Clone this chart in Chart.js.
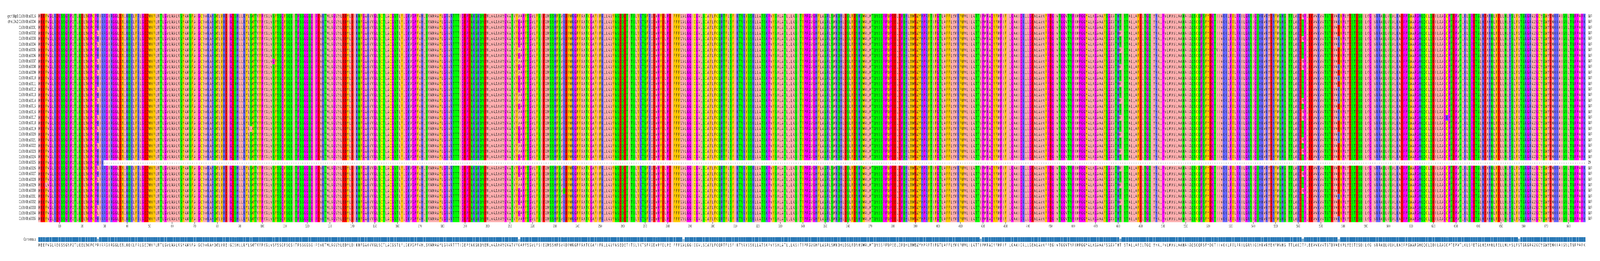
<!DOCTYPE html>
<html><head><meta charset="utf-8">
<script src="https://cdn.jsdelivr.net/npm/chart.js@4"></script>
<style>html,body{margin:0;padding:0;background:#fff;overflow:hidden;width:100vw;height:100vh}
#clip{position:relative;width:100vw;height:100vh;overflow:hidden}
#page{position:absolute;left:0;top:0;width:7161px;height:668px;transform-origin:0 0}
#w1{position:absolute;left:0;top:0;width:7161px;height:590px}
#w2{position:absolute;left:0;top:590px;width:7161px;height:78px}</style>
</head><body>
<div id="clip"><div id="page">
<div id="w1"><canvas id="c1"></canvas></div>
<div id="w2"><canvas id="c2"></canvas></div>
</div></div>
<script>
// ---- data ----
const seqNames = ["grch38p0:CLCNKB:a0016","chm13v2:CLCNKB:a0004"].concat(
  Array.from({length:35},(_,i)=>"CLCNKB:a00"+String(i+1).padStart(2,"0")));
const refPart1 = "MEEFVGLREGSSGNPVTLQELWGPCPRIRRGIRGGLEWLKQKLFRLGEDWYFLMTLGVLMALVSYAMNFAIGCVVRAHQWLYREIGDSHLLRYLSWTVYPVALVSFSSGFSQSITPSSGGSGIPEVKTMLAGVVLEDYLDIKNFGAKVVGLSCTLACGSTLFLGKVGPFVHLSVMMAAYLGRVRTTTIGEPENKSKQNEMLVAAAAVGVATVFAAPFSGVLFSIEVMSSHFSVRDYWRGFFAATCGAFIFRLLAVFNSEQETITSLYKTSFRVDVPFDLPEIFFFVALGGICGVLSCAYLFCQRTFLSFIKTNRYSSKLLATSKPVYSALATLLLASITYPPGVGHFLASRLSMKQHLDSLFDNHSWALMTQNSSPPWPEELDPQHLWWEWYHPRFTIFGTLAFFLVMKFWMLILATTIPMPAGYFMPIFILGAAIGRLLGEALAVAFPEGIVTGGVTNPIMPGGYALAGAAAFSGAVTHTISTALLAFELTGQIVHALPVLMAVLAANAIAQSCQPSFYDGTIIVKKLPYLPRILGRNIGSHRVRVEHFMNHSITTL";
const refPart2 = "AKDMPLEEVVKVVTSTDVAK";
const refPart3 = "YPLVESTESQILVGIVRRAQLVQALKAEPPSWAPGHQQCLQDILAAGCPTEPVTLKLSPETSLHEAHNLFELLNLHSLFVTSRGRAVGCVSWVEMKKAISNLTNPPAPK";
// truncated sequence: row index -> last residue
const truncated = {26: 29};
// variants: [position, residue, rows]
const variants = [
  [4,"L",[30]],
  [27,"L",[3,5,8,10,13,15,18,20,23,27,29,34,35]],
  [88,"N",[12]],[95,"L",[20]],[105,"G",[8]],
  [214,"G",[1,2,3,4,5,7,9,11,12,13,16,20,21,22,25,27,28,31,32,33,35]],
  [234,"Q",[31]],[275,"I",[15]],
  [287,"V",[2,4,6,9,11,14,15,17,19,22,24,28,30,32,36]],
  [419,"V",[1,4,7,10,13,16,19,22,25,28,31,34]],
  [481,"M",[3,6,9,12,15,18,21,24,27,30,33]],
  [524,"V",[6]],[544,"H",[33]],
  [562,"T",[1,2,3,5,6,7,10,11,12,13,14,16,19,20,21,23,25,27,29,30,32,33,34,35,36]],
  [578,"E",[2,3,6,7,8,10,12,16,19,20,23,24,25,27,28,29,30,31,33,34,35]],
  [626,"R",[18]],
  [658,"I",[2,5,8,11,14,17,20,23,29,32,35]]
];
// ---- fit page to window ----
(function(){
  const clip = document.getElementById("clip");
  const sx = clip.clientWidth/7161, sy = clip.clientHeight/668;
  if (Math.abs(sx-1) > 0.001 || Math.abs(sy-1) > 0.001)
    document.getElementById("page").style.transform = "scale("+sx+","+sy+")";
})();
// ---- build ----
const ref = refPart1+refPart2+refPart3;
const L = ref.length;
const rows = seqNames.map((n,r)=>{
  const a = ref.split("");
  variants.forEach(([p,res,rs])=>{ if(rs.includes(r)) a[p-1]=res; });
  if(truncated[r]!==undefined) for(let i=truncated[r];i<L;i++) a[i]="-";
  return a;
});
const lengths = rows.map(a=>a.filter(c=>c!=="-").length);
const consensus=[], consFrac=[];
for(let c=0;c<L;c++){
  const cnt={}; let n=0;
  rows.forEach(a=>{const ch=a[c]; if(ch!=="-"){cnt[ch]=(cnt[ch]||0)+1;n++;}});
  let best=null,bv=-1; for(const k in cnt){ if(cnt[k]>bv){bv=cnt[k];best=k;} }
  consensus.push(best); consFrac.push(bv/n);
}
const zappo = {I:"#ffafaf",L:"#ffafaf",V:"#ffafaf",A:"#ffafaf",M:"#ffafaf",
  F:"#ffc800",W:"#ffc800",Y:"#ffc800",K:"#6464ff",R:"#6464ff",H:"#6464ff",
  D:"#ff0000",E:"#ff0000",S:"#00ff00",T:"#00ff00",N:"#00ff00",Q:"#00ff00",
  P:"#ff00ff",G:"#ff00ff",C:"#ffff00"};
const FONT = "'DejaVu Sans', sans-serif";

const cellPlugin = {
  id:"cells",
  beforeDatasetsDraw(chart){
    const {ctx, scales:{x,y}} = chart;
    const band = (y.getPixelForValue(1)-y.getPixelForValue(0));
    ctx.save();
    ctx.font = "10px "+FONT; ctx.textAlign="center"; ctx.textBaseline="middle";
    rows.forEach((a,r)=>{
      const yc = y.getPixelForValue(r), y0 = yc-band/2;
      a.forEach((ch,c)=>{
        const x0 = x.getPixelForValue(c+0.5), x1 = x.getPixelForValue(c+1.5);
        if(ch!=="-"){ ctx.fillStyle = zappo[ch]||"#ffffff"; ctx.fillRect(x0,y0,x1-x0+0.6,band+0.6); }
      });
      a.forEach((ch,c)=>{
        const xc = x.getPixelForValue(c+1);
        ctx.fillStyle = "#222"; ctx.fillText(ch, xc, yc+0.5);
      });
    });
    ctx.restore();
  }
};

new Chart(document.getElementById("c1"),{
  type:"scatter",
  data:{datasets:[{data:[],pointRadius:0}]},
  options:{
    responsive:true, maintainAspectRatio:false, animation:false,
    layout:{padding:{top:35,left:0,right:0,bottom:0}},
    plugins:{legend:{display:false},tooltip:{enabled:false}},
    scales:{
      x:{type:"linear",min:0.5,max:L+0.5,
        afterBuildTicks(s){ const t=[]; for(let v=10;v<=L;v+=10) t.push({value:v}); s.ticks=t; },
        afterFit(s){ s.height=22; },
        grid:{drawOnChartArea:false,tickLength:5,color:"#333"},border:{display:false},
        ticks:{font:{size:9,family:FONT},color:"#333",maxRotation:0,autoSkip:false,padding:1}},
      y:{type:"category",labels:seqNames,offset:true,position:"left",
        afterFit(s){ s.width=171; },
        grid:{display:false,drawTicks:false},border:{display:false},
        ticks:{font:{size:10,family:FONT},color:"#222",padding:11,autoSkip:false}},
      y2:{type:"category",labels:lengths.map(String),offset:true,position:"right",
        afterFit(s){ s.width=65; },
        grid:{display:false,drawTicks:false},border:{display:false},
        ticks:{font:{size:10,family:FONT},color:"#222",padding:11,autoSkip:false}}
    }
  },
  plugins:[cellPlugin]
});

function blend(f){ const b=[38,119,181]; const a=Math.max(0,Math.min(1,(f-0.3)/0.7*0.85+0.15));
  return "rgb("+b.map(v=>Math.round(255-(255-v)*a)).join(",")+")"; }
new Chart(document.getElementById("c2"),{
  type:"bar",
  data:{labels:consensus,datasets:[{data:consFrac,backgroundColor:consFrac.map(blend),
    borderColor:"#ffffff",borderWidth:{left:0.6,right:0.6,top:0,bottom:0},borderSkipped:false,
    barPercentage:1,categoryPercentage:1}]},
  options:{
    responsive:true, maintainAspectRatio:false, animation:false,
    layout:{padding:{top:0,left:0,right:0,bottom:0}},
    plugins:{legend:{display:false},tooltip:{enabled:false}},
    scales:{
      x:{type:"category",afterFit(s){ s.height=49; },
        grid:{display:false,drawTicks:false},border:{display:false},
        ticks:{font:{size:10,family:FONT},color:"#222",maxRotation:0,autoSkip:false,padding:3}},
      y:{min:0,max:1,position:"left",afterFit(s){ s.width=171; },
        afterBuildTicks(s){ s.ticks=[{value:0.5}]; },
        grid:{display:false,drawTicks:false},border:{display:false},
        ticks:{font:{size:10,family:FONT},color:"#222",padding:11,callback:()=>"Consensus"}},
      y2:{position:"right",afterFit(s){ s.width=65; },display:true,
        grid:{display:false,drawTicks:false},border:{display:false},ticks:{display:false}}
    }
  }
});
</script>
</body></html>
